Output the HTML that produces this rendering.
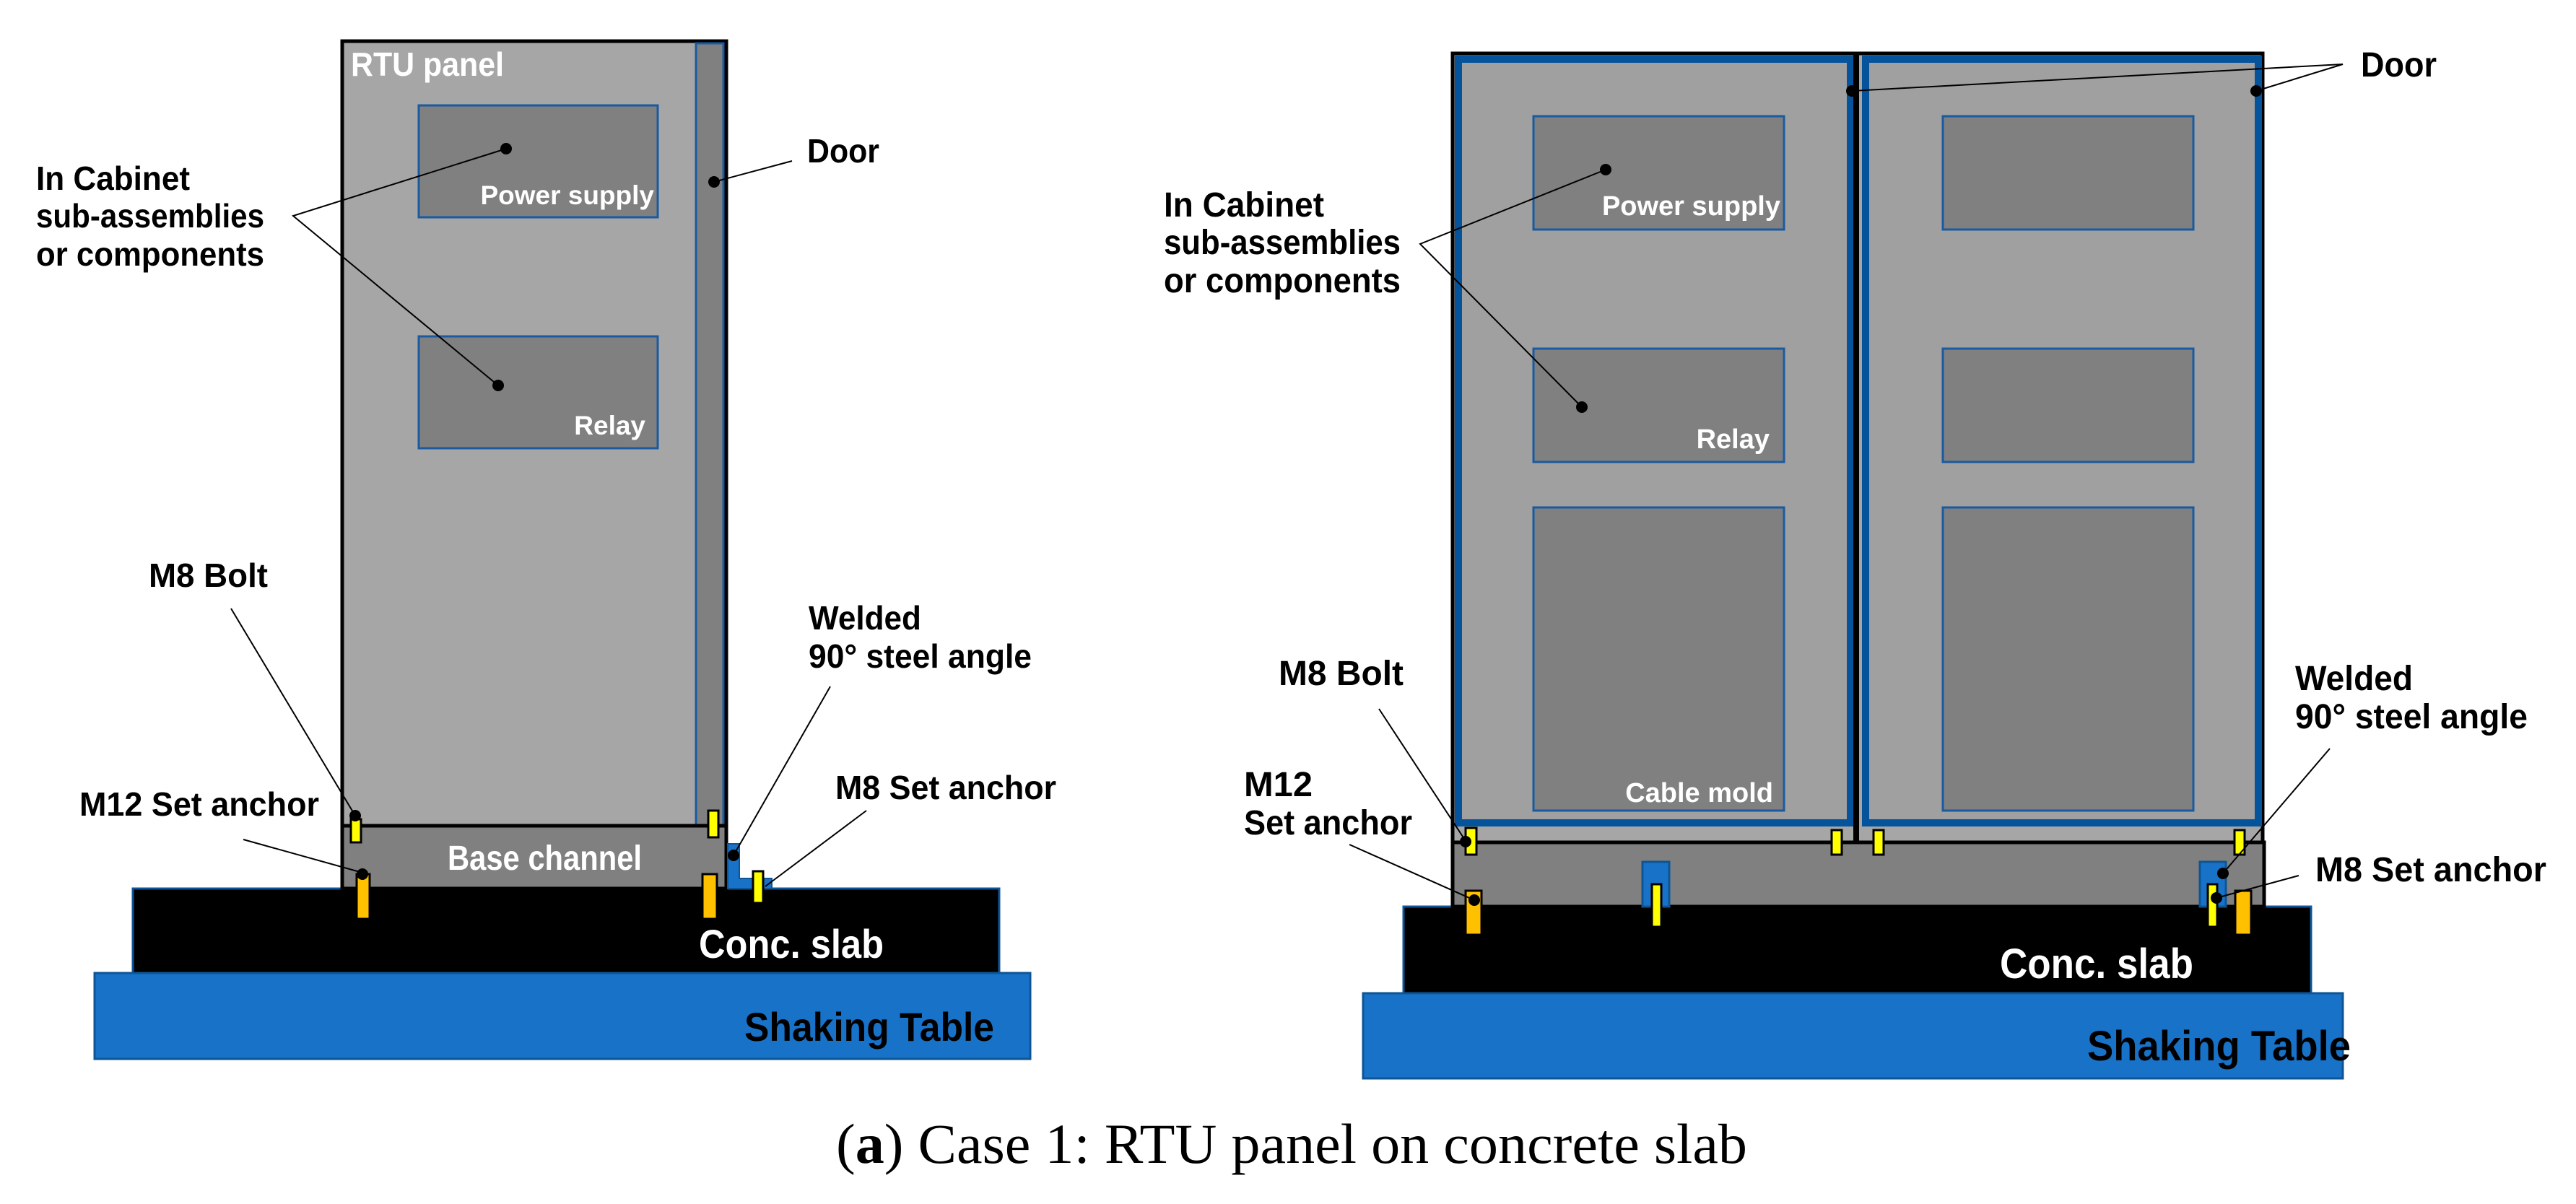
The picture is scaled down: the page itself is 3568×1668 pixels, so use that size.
<!DOCTYPE html>
<html><head><meta charset="utf-8"><style>
html,body{margin:0;padding:0;background:#fff}
svg{display:block}
.t{font-family:"Liberation Sans","DejaVu Sans",sans-serif;font-weight:bold;fill:#000}
.w{font-family:"Liberation Sans","DejaVu Sans",sans-serif;font-weight:bold;fill:#fff}
</style></head><body>
<svg xmlns="http://www.w3.org/2000/svg" width="3568" height="1668" viewBox="0 0 3568 1668">
<!-- LEFT FIGURE -->
<rect x="131" y="1348" width="1296" height="119" fill="#1872c8" stroke="#0d5596" stroke-width="3"/>
<rect x="184" y="1231" width="1200" height="117" fill="#000" stroke="#0d5596" stroke-width="3"/>
<rect x="474" y="57" width="532" height="1087" fill="#a6a6a6" stroke="#000" stroke-width="5"/>
<rect x="964" y="60" width="38" height="1084" fill="#808080" stroke="#1a5aa0" stroke-width="3"/>
<rect x="580" y="146" width="331" height="155" fill="#808080" stroke="#1a5aa0" stroke-width="3"/>
<rect x="580" y="466" width="331" height="155" fill="#808080" stroke="#1a5aa0" stroke-width="3"/>
<rect x="474" y="1144" width="532" height="87" fill="#808080" stroke="#000" stroke-width="5"/>
<path d="M1008 1169 h16 v48 h45 v14 h-61 z" fill="#1872c8" stroke="#0d5596" stroke-width="2"/>
<rect x="486" y="1135" width="14" height="32" fill="#ffff00" stroke="#000" stroke-width="3"/>
<rect x="981" y="1123" width="14" height="37" fill="#ffff00" stroke="#000" stroke-width="3"/>
<rect x="494" y="1211" width="18" height="62" fill="#ffc000" stroke="#000" stroke-width="3"/>
<rect x="973" y="1211" width="20" height="62" fill="#ffc000" stroke="#000" stroke-width="3"/>
<rect x="1043" y="1207" width="14" height="44" fill="#ffff00" stroke="#000" stroke-width="3"/>
<g stroke="#000" stroke-width="2" fill="none">
<polyline points="701,206 406,299 690,534"/>
<line x1="1097" y1="223" x2="989" y2="252"/>
<line x1="320" y1="843" x2="492" y2="1130"/>
<line x1="337" y1="1163" x2="502" y2="1209"/>
<line x1="1150" y1="951" x2="1016" y2="1185"/>
<line x1="1200" y1="1123" x2="1060" y2="1228"/>
</g>
<g fill="#000">
<circle cx="701" cy="206" r="8"/><circle cx="690" cy="534" r="8"/><circle cx="989" cy="252" r="8"/>
<circle cx="492" cy="1130" r="8"/><circle cx="502" cy="1211" r="8"/><circle cx="1016" cy="1185" r="8"/>
</g>
<text class="w" x="486" y="105" font-size="46" textLength="212" lengthAdjust="spacingAndGlyphs">RTU panel</text>
<text class="w" x="906" y="283" font-size="37" text-anchor="end">Power supply</text>
<text class="w" x="894" y="602" font-size="37" text-anchor="end">Relay</text>
<text class="w" x="620" y="1205" font-size="48" textLength="269" lengthAdjust="spacingAndGlyphs">Base channel</text>
<text class="w" x="968" y="1327" font-size="56" textLength="256" lengthAdjust="spacingAndGlyphs">Conc. slab</text>
<text class="t" x="1031" y="1442" font-size="56" textLength="346" lengthAdjust="spacingAndGlyphs">Shaking Table</text>
<text class="t" x="50" y="263" font-size="46" textLength="213" lengthAdjust="spacingAndGlyphs">In Cabinet</text>
<text class="t" x="50" y="315" font-size="46" textLength="316" lengthAdjust="spacingAndGlyphs">sub-assemblies</text>
<text class="t" x="50" y="368" font-size="46" textLength="316" lengthAdjust="spacingAndGlyphs">or components</text>
<text class="t" x="1118" y="225" font-size="46" textLength="100" lengthAdjust="spacingAndGlyphs">Door</text>
<text class="t" x="206" y="813" font-size="46" textLength="165" lengthAdjust="spacingAndGlyphs">M8 Bolt</text>
<text class="t" x="1120" y="872" font-size="46" textLength="156" lengthAdjust="spacingAndGlyphs">Welded</text>
<text class="t" x="1120" y="925" font-size="46" textLength="309" lengthAdjust="spacingAndGlyphs">90° steel angle</text>
<text class="t" x="110" y="1130" font-size="46" textLength="332" lengthAdjust="spacingAndGlyphs">M12 Set anchor</text>
<text class="t" x="1157" y="1107" font-size="46" textLength="306" lengthAdjust="spacingAndGlyphs">M8 Set anchor</text>

<!-- RIGHT FIGURE -->
<rect x="1888" y="1376" width="1357" height="118" fill="#1872c8" stroke="#0d5596" stroke-width="3"/>
<rect x="1944" y="1256" width="1257" height="120" fill="#000" stroke="#0d5596" stroke-width="3"/>
<rect x="2012" y="74" width="1122" height="1093" fill="#a6a6a6" stroke="#000" stroke-width="5"/>
<rect x="2020" y="82" width="543" height="1058" fill="#a0a0a0" stroke="#05539a" stroke-width="10"/>
<rect x="2567" y="74" width="8" height="1093" fill="#000"/>
<rect x="2584" y="82" width="544" height="1058" fill="#a0a0a0" stroke="#05539a" stroke-width="10"/>
<g fill="#808080" stroke="#1a5aa0" stroke-width="3">
<rect x="2124" y="161" width="347" height="157"/>
<rect x="2124" y="483" width="347" height="157"/>
<rect x="2124" y="703" width="347" height="420"/>
<rect x="2691" y="161" width="347" height="157"/>
<rect x="2691" y="483" width="347" height="157"/>
<rect x="2691" y="703" width="347" height="420"/>
</g>
<rect x="2012" y="1167" width="1124" height="89" fill="#808080" stroke="#000" stroke-width="5"/>
<rect x="2275" y="1194" width="37" height="62" fill="#1872c8" stroke="#0d5596" stroke-width="3"/>
<rect x="3047" y="1194" width="36" height="62" fill="#1872c8" stroke="#0d5596" stroke-width="3"/>
<g fill="#ffff00" stroke="#000" stroke-width="3">
<rect x="2030" y="1147" width="15" height="37"/>
<rect x="2537" y="1150" width="14" height="34"/>
<rect x="2595" y="1150" width="14" height="34"/>
<rect x="3095" y="1150" width="14" height="34"/>
<rect x="2288" y="1225" width="13" height="59"/>
<rect x="3058" y="1225" width="13" height="59"/>
</g>
<rect x="2030" y="1234" width="22" height="61" fill="#ffc000" stroke="#000" stroke-width="3"/>
<rect x="3096" y="1234" width="22" height="61" fill="#ffc000" stroke="#000" stroke-width="3"/>
<g stroke="#000" stroke-width="2" fill="none">
<polyline points="2224,235 1967,338 2191,564"/>
<polyline points="2565,126 3245,89 3125,126"/>
<line x1="1910" y1="982" x2="2030" y2="1165"/>
<line x1="1869" y1="1170" x2="2042" y2="1247"/>
<line x1="3227" y1="1037" x2="3079" y2="1210"/>
<line x1="3184" y1="1213" x2="3070" y2="1244"/>
</g>
<g fill="#000">
<circle cx="2224" cy="235" r="8"/><circle cx="2191" cy="564" r="8"/>
<circle cx="2565" cy="126" r="8"/><circle cx="3125" cy="126" r="8"/>
<circle cx="2030" cy="1166" r="8"/><circle cx="2042" cy="1247" r="8"/>
<circle cx="3079" cy="1210" r="8"/><circle cx="3070" cy="1244" r="8"/>
</g>
<text class="w" x="2466" y="298" font-size="38" text-anchor="end">Power supply</text>
<text class="w" x="2451" y="621" font-size="38" text-anchor="end">Relay</text>
<text class="w" x="2456" y="1111" font-size="38" text-anchor="end">Cable mold</text>
<text class="w" x="2770" y="1355" font-size="58" textLength="268" lengthAdjust="spacingAndGlyphs">Conc. slab</text>
<text class="t" x="2891" y="1469" font-size="58" textLength="365" lengthAdjust="spacingAndGlyphs">Shaking Table</text>
<text class="t" x="1612" y="300" font-size="48" textLength="222" lengthAdjust="spacingAndGlyphs">In Cabinet</text>
<text class="t" x="1612" y="352" font-size="48" textLength="328" lengthAdjust="spacingAndGlyphs">sub-assemblies</text>
<text class="t" x="1612" y="405" font-size="48" textLength="328" lengthAdjust="spacingAndGlyphs">or components</text>
<text class="t" x="3270" y="106" font-size="48" textLength="105" lengthAdjust="spacingAndGlyphs">Door</text>
<text class="t" x="1771" y="949" font-size="48" textLength="173" lengthAdjust="spacingAndGlyphs">M8 Bolt</text>
<text class="t" x="1723" y="1103" font-size="48" textLength="95" lengthAdjust="spacingAndGlyphs">M12</text>
<text class="t" x="1723" y="1156" font-size="48" textLength="233" lengthAdjust="spacingAndGlyphs">Set anchor</text>
<text class="t" x="3179" y="956" font-size="48" textLength="163" lengthAdjust="spacingAndGlyphs">Welded</text>
<text class="t" x="3179" y="1009" font-size="48" textLength="322" lengthAdjust="spacingAndGlyphs">90° steel angle</text>
<text class="t" x="3207" y="1221" font-size="48" textLength="320" lengthAdjust="spacingAndGlyphs">M8 Set anchor</text>

<!-- CAPTION -->
<text x="1158" y="1611" font-family="'Liberation Serif',serif" font-size="78" fill="#000" textLength="1262" lengthAdjust="spacingAndGlyphs">(<tspan font-weight="bold">a</tspan>) Case 1: RTU panel on concrete slab</text>
</svg>
</body></html>
